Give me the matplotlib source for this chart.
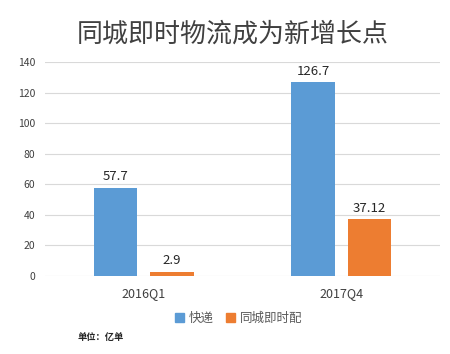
import numpy as np
import matplotlib.pyplot as plt
from matplotlib.patches import Patch

plt.rcParams['font.family'] = ['Noto Sans CJK SC', 'DejaVu Sans']

categories = ["2016Q1", "2017Q4"]
series_names = ["快递", "同城即时配"]
express = [57.7, 126.7]
local_delivery = [2.9, 37.12]
value_labels = [["57.7", "126.7"], ["2.9", "37.12"]]
colors = ["#5B9BD5", "#ED7D31"]

fig = plt.figure(figsize=(4.5, 3.54), dpi=100)
ax = fig.add_axes([0.1, 0.2203, 0.878, 0.6046])

x = np.arange(len(categories))
width = 0.22
offset = 0.143
for i, (vals, col) in enumerate(zip([express, local_delivery], colors)):
    pos = x + (-offset if i == 0 else offset)
    ax.bar(pos, vals, width, color=col, zorder=3)
    for p, v, lab in zip(pos, vals, value_labels[i]):
        ax.text(p, v + 3, lab, ha='center', va='bottom', fontsize=9.5, color='#262626')

ax.set_xlim(-0.5, 1.5)
ax.set_ylim(0, 140)
ax.set_yticks(range(0, 141, 20))
ax.set_xticks(x)
ax.set_xticklabels(categories, fontsize=9, color='#404040')
ax.tick_params(axis='y', labelsize=7.5, colors='#404040', length=0, pad=7)
ax.tick_params(axis='x', length=0, pad=8)
ax.grid(axis='y', color='#D9D9D9', linewidth=0.8, zorder=0)
for s in ax.spines.values():
    s.set_visible(False)

fig.text(0.518, 0.905, "同城即时物流成为新增长点", ha='center', va='center',
         fontsize=18.7, color='#404040')

handles = [Patch(color=c) for c in colors]
fig.legend(handles, series_names, loc='center', bbox_to_anchor=(0.53, 0.1),
           ncol=2, frameon=False, fontsize=9, handlelength=0.7, handleheight=0.7,
           columnspacing=1.0, handletextpad=0.4, labelcolor='#595959')

fig.text(0.173, 0.048, "单位：亿单", ha='left', va='center', fontsize=6.7,
         fontweight='bold', color='#262626')

fig.savefig("out.png", dpi=100)
